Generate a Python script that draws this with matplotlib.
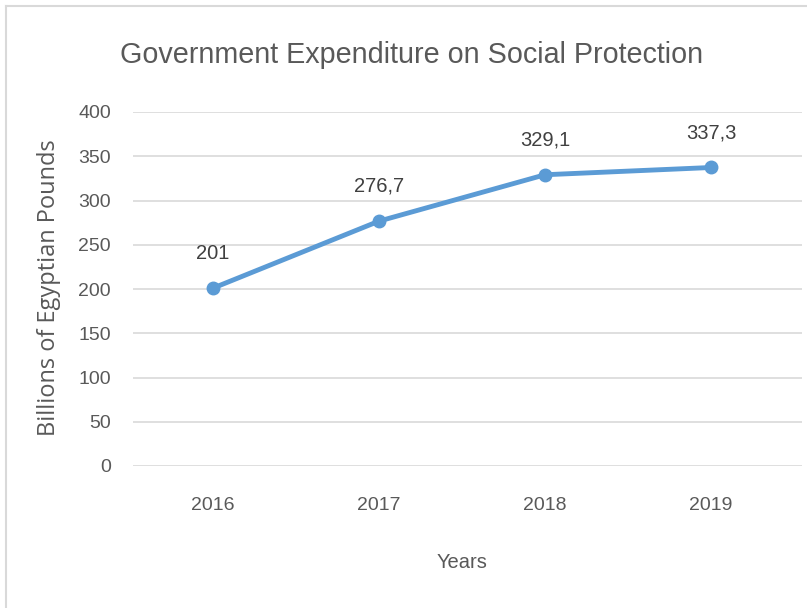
import matplotlib
matplotlib.use('Agg')
import matplotlib.pyplot as plt
from matplotlib.lines import Line2D

# data
years = ['2016', '2017', '2018', '2019']
spending = [201, 276.7, 329.1, 337.3]
labels = ['201', '276,7', '329,1', '337,3']

narrow = ['Liberation Sans', 'DejaVu Sans']
plain = ['Open Sans', 'DejaVu Sans']

fig = plt.figure(figsize=(8.07, 6.08), dpi=100)
W, H = 807, 608
# plot area in pixels: x 133..802, y 112..466
ax = fig.add_axes([133 / W, 1 - 466 / H, (802 - 133) / W, (466 - 112) / H])

x = list(range(len(years)))
ax.plot(x, spending, color='#5B9BD5', linewidth=3.5, marker='o', markersize=9,
        solid_capstyle='round', zorder=3)
for xi, v, lab in zip(x, spending, labels):
    ax.annotate(lab, (xi, v), xytext=(0, 25), textcoords='offset points',
                ha='center', va='center', fontsize=14.5, color='#404040', family=narrow)

ax.set_xlim(-0.482, 3.548)
ax.set_ylim(0, 400)
ax.set_yticks(range(0, 401, 50))
ax.set_xticks(x)
ax.set_xticklabels(years)
ax.grid(axis='y', color='#D9D9D9', linewidth=1.2)
ax.set_axisbelow(True)
for s in ax.spines.values():
    s.set_visible(False)
ax.tick_params(length=0)
ax.tick_params(axis='y', pad=16)
ax.tick_params(axis='x', pad=22)
for t in ax.get_yticklabels() + ax.get_xticklabels():
    t.set_family(narrow)
    t.set_fontsize(14)
    t.set_color('#595959')

fig.text(412 / W, 1 - 55 / H, 'Government Expenditure on Social Protection',
         ha='center', va='center', fontsize=20.7, color='#595959', family=narrow)
fig.text(49 / W, 1 - 288 / H, 'Billions of Egyptian Pounds', rotation=90,
         ha='center', va='center', fontsize=17, color='#595959', family=plain)
fig.text(462 / W, 1 - 562 / H, 'Years', ha='center', va='center',
         fontsize=14.5, color='#595959', family=narrow)

# chart border (left and top edges visible)
fig.add_artist(Line2D([6 / W, 6 / W], [0, 1 - 6 / H], color='#D9D9D9', linewidth=1.5))
fig.add_artist(Line2D([6 / W, 1], [1 - 6 / H, 1 - 6 / H], color='#D9D9D9', linewidth=1.5))

fig.savefig('out.png', dpi=100)
